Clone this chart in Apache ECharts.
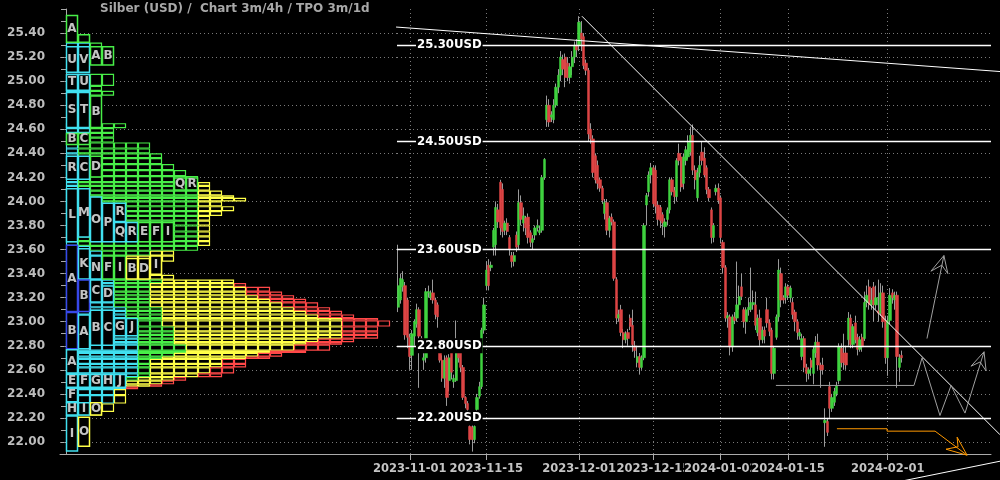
<!DOCTYPE html>
<html><head><meta charset="utf-8">
<script src="https://cdn.jsdelivr.net/npm/echarts/dist/echarts.min.js"></script>
<style>html,body{margin:0;padding:0;background:#000;}#c{width:1000px;height:480px;}</style>
</head><body><div id="c"></div>
<script>
const chartTitle = 'Silber (USD) /  Chart 3m/4h / TPO 3m/1d';
const dateLabels = ['2023-11-01','2023-11-15','2023-12-01','2023-12-15','2024-01-02','2024-01-15','2024-02-01'];
const dateSlots = [5, 38, 78, 110, 139, 168, 211];
const slotCount = 256;
const priceLevels = [25.30, 24.50, 23.60, 22.80, 22.20];
const gridPrices = [22.00,22.20,22.40,22.60,22.80,23.00,23.20,23.40,23.60,23.80,24.00,24.20,24.40,24.60,24.80,25.00,25.20,25.40];

// candles: [open, close, low, high]
const ohlc = [
[23.12,23.30,23.08,23.64],[23.18,23.36,23.15,23.40],[23.29,23.35,23.25,23.42],[23.30,22.89,22.85,23.33],
[23.18,22.87,22.78,23.20],[22.87,22.71,22.60,22.90],[22.72,22.90,22.60,22.93],[22.88,23.00,22.80,23.02],
[22.98,23.10,22.95,23.15],[23.10,22.88,22.45,23.12],[22.86,22.82,22.78,22.88],[22.68,22.70,22.60,22.76],
[22.70,23.25,22.66,23.28],[23.24,23.25,23.20,23.30],[23.20,23.24,23.18,23.26],[23.24,23.18,23.15,23.35],
[23.18,23.06,23.02,23.20],[23.14,23.04,22.95,23.16],[22.74,22.68,22.66,22.78],[22.68,22.53,22.50,22.72],
[22.53,22.68,22.45,22.72],[22.70,22.37,22.30,22.72],[22.51,22.70,22.42,22.73],[22.74,22.58,22.52,22.78],
[22.50,22.53,22.45,22.56],[22.51,22.74,22.50,23.01],[22.74,22.70,22.66,22.77],[22.74,22.62,22.58,22.76],
[22.62,22.37,22.35,22.64],[22.37,22.32,22.28,22.38],[22.32,22.27,22.22,22.34],[22.13,22.02,21.98,22.15],
[22.12,22.02,21.92,22.14],[22.02,22.13,21.99,22.15],[22.27,22.37,22.25,22.40],[22.38,22.46,22.36,22.50],
[22.46,22.93,22.44,22.95],[22.93,23.14,22.90,23.20],[23.30,23.43,23.26,23.50],[23.47,23.30,23.26,23.52],
[23.45,23.47,23.42,23.50],[23.62,23.76,23.55,23.78],
[23.64,23.95,23.55,24.00],[23.93,23.83,23.78,23.98],[24.16,23.78,23.72,24.18],[24.10,23.75,23.70,24.15],
[23.76,23.82,23.72,23.84],[23.82,23.75,23.72,23.86],[23.70,23.60,23.55,23.72],[23.55,23.50,23.45,23.58],
[23.50,23.55,23.46,23.58],[23.72,23.62,23.58,23.75],[23.64,23.99,23.60,24.10],[23.99,23.85,23.80,24.05],
[23.82,23.88,23.75,23.95],[23.86,23.78,23.72,23.88],[23.87,23.70,23.65,23.90],[23.74,23.66,23.62,23.76],
[23.66,23.69,23.60,23.72],[23.72,23.78,23.68,23.80],[23.78,23.80,23.75,23.85],[23.74,23.76,23.72,23.80],
[23.76,24.20,23.74,24.22],[24.20,24.35,24.18,24.36],[24.68,24.80,24.62,24.88],[24.80,24.66,24.62,24.85],
[24.70,24.72,24.66,24.75],[24.68,24.80,24.65,24.85],[24.80,24.95,24.78,24.98],[24.95,25.05,24.90,25.10],
[25.05,25.20,25.00,25.25],[25.18,25.10,25.05,25.22],[25.20,25.03,24.95,25.23],[25.15,25.03,25.00,25.20],
[25.03,25.12,24.98,25.15],[25.12,25.20,25.05,25.25],[25.20,25.30,25.15,25.33],[25.30,25.26,25.20,25.35],
[25.30,25.49,25.25,25.54],[25.40,25.35,25.25,25.50],[25.37,25.13,25.10,25.40],[25.15,25.09,25.05,25.18],
[25.09,24.56,24.50,25.11],[24.60,24.52,24.48,24.65],[24.52,24.24,24.20,24.55],[24.38,24.18,24.15,24.40],
[24.30,24.15,24.10,24.34],
[24.18,24.11,24.08,24.20],[24.11,24.01,23.98,24.13],[23.90,23.99,23.85,24.02],[23.99,23.76,23.72,24.02],
[23.76,23.86,23.70,23.88],[23.87,23.83,23.80,23.90],[23.83,23.36,23.34,23.85],[23.35,23.03,22.98,23.37],
[23.03,23.06,23.00,23.10],[23.10,22.91,22.88,23.14],[22.91,22.85,22.78,22.94],[22.85,22.90,22.82,22.92],
[22.91,22.86,22.80,22.94],[23.03,22.96,22.93,23.06],[22.97,22.81,22.75,23.10],[22.80,22.76,22.70,22.84],
[22.66,22.71,22.62,22.80],[22.71,22.62,22.56,22.74],[22.62,22.70,22.60,22.72],[22.70,23.80,22.68,23.82],
[23.97,24.05,23.80,24.07],[24.08,24.22,24.04,24.25],[24.22,24.28,24.15,24.32],[24.28,23.98,23.95,24.30],
[24.26,23.96,23.90,24.30],[23.97,23.85,23.80,24.00],[23.95,23.84,23.78,23.97],[23.89,23.82,23.72,23.91],
[23.79,23.83,23.70,23.86],[23.85,23.93,23.80,23.95],[23.93,24.18,23.90,24.20],[24.18,24.08,24.05,24.20],
[24.09,24.04,23.98,24.12],[24.04,24.34,24.00,24.36],[24.40,24.34,24.30,24.48],[24.37,24.12,24.08,24.40],
[24.15,24.37,24.10,24.40],[24.34,24.43,24.30,24.46],[24.37,24.49,24.35,24.55],[24.41,24.55,24.38,24.62],
[24.55,24.26,24.22,24.64],[24.26,24.18,24.10,24.30],[24.03,24.24,24.00,24.28],[24.24,24.30,24.20,24.38],
[24.41,24.34,24.30,24.50],[24.36,24.22,24.20,24.45],[24.28,24.10,24.06,24.30],[24.10,24.03,24.00,24.12],
[23.93,23.70,23.65,23.95],[23.70,23.80,23.66,23.82],[24.08,24.11,24.05,24.14],[24.11,24.01,23.98,24.15],
[24.03,23.70,23.65,24.05],[23.66,23.45,23.40,23.68],
[23.45,23.03,23.00,23.47],[23.03,23.05,22.95,23.08],[23.04,22.79,22.72,23.06],[22.79,23.04,22.75,23.06],
[23.04,23.01,22.98,23.08],[23.03,23.14,23.00,23.50],[23.14,23.21,23.10,23.30],[23.29,23.21,23.18,23.40],
[23.10,23.00,22.95,23.12],[23.00,23.10,22.90,23.12],[23.10,23.12,23.05,23.20],[23.10,23.16,23.08,23.45],
[23.14,23.16,23.10,23.26],[23.14,22.97,22.93,23.25],[22.91,23.03,22.88,23.06],[23.03,22.85,22.80,23.10],
[22.85,22.93,22.82,22.96],[22.93,22.88,22.82,22.96],[23.10,22.99,22.95,23.20],[22.99,22.92,22.88,23.02],
[22.93,22.57,22.52,22.95],[22.57,22.78,22.52,22.80],[22.87,23.04,22.85,23.06],[23.04,23.43,23.00,23.52],
[23.40,23.18,23.12,23.45],[23.20,23.18,23.15,23.22],[23.20,23.29,23.15,23.32],[23.29,23.22,23.18,23.31],
[23.20,23.28,23.16,23.30],[23.16,23.06,23.02,23.20],[23.08,23.00,22.92,23.10],[23.00,22.91,22.85,23.02],
[22.88,22.91,22.85,22.94],[22.71,22.86,22.68,22.90],[22.86,22.62,22.58,22.88],[22.62,22.57,22.50,22.65],
[22.57,22.60,22.52,22.62],[22.68,22.62,22.55,22.70],[22.57,22.77,22.48,22.80],[22.74,22.83,22.70,22.88],
[22.83,22.64,22.60,22.90],[22.64,22.60,22.45,22.66],[22.64,22.60,22.56,22.70],[22.16,22.18,21.96,22.28],
[22.17,22.08,22.05,22.20],[22.46,22.28,22.20,22.50],[22.28,22.37,22.25,22.40],[22.33,22.42,22.30,22.45],
[22.40,22.47,22.38,22.50],[22.51,22.79,22.48,22.82],[22.78,22.66,22.62,22.82],[22.74,22.66,22.60,22.90],
[22.74,22.64,22.60,22.80],[22.85,23.03,22.80,23.08],[23.03,22.81,22.78,23.06],[22.81,22.96,22.78,22.98],
[22.99,22.85,22.82,23.05],[22.87,22.77,22.72,22.90],[22.77,22.85,22.75,22.88],[22.87,22.79,22.75,22.90],
[22.86,23.16,22.84,23.25],[23.16,23.22,23.12,23.30],[23.29,23.14,23.10,23.35],[23.14,23.18,23.10,23.28],
[23.29,23.14,23.00,23.33],[23.14,23.20,23.10,23.30],[23.09,23.07,23.00,23.35],[23.07,23.24,23.05,23.32],
[23.24,23.00,22.95,23.30],[23.01,22.70,22.65,23.05],[22.70,23.01,22.55,23.05],[23.01,23.22,22.98,23.28],
[23.24,23.20,23.15,23.27],[23.18,23.22,23.10,23.25],[23.22,22.71,22.45,23.25],[22.62,22.70,22.50,22.73],
[22.72,22.70,22.66,22.76]
];

// TPO rows: [priceLow, priceHigh, cyan, green, yellow, red] cell counts
const tpoRows = [
[25.28,25.32,2,1,0,0],[24.96,25.06,2,2,0,0],[24.92,24.96,2,1,0,0],[24.88,24.92,2,2,0,0],
[24.61,24.65,2,3,0,0],[24.57,24.61,2,2,0,0],[24.53,24.57,2,2,0,0],[24.49,24.53,2,2,0,0],
[24.44,24.49,1,6,0,0],[24.40,24.44,1,6,0,0],[24.36,24.40,1,7,0,0],[24.31,24.36,1,7,0,0],
[24.26,24.31,1,8,0,0],[24.21,24.26,1,9,0,0],[24.16,24.21,1,10,0,0],[24.13,24.16,1,10,1,0],
[24.09,24.13,1,10,1,0],[24.05,24.09,1,10,2,0],[24.03,24.05,1,10,3,0],[24.00,24.03,1,10,4,0],
[23.96,24.00,1,10,2,0],[23.92,23.96,1,10,3,0],[23.88,23.92,1,10,2,0],[23.84,23.88,1,10,1,0],
[23.80,23.84,1,10,1,0],[23.75,23.80,1,10,1,0],[23.71,23.75,1,10,1,0],[23.67,23.71,1,10,1,0],
[23.63,23.67,1,10,1,0],[23.59,23.63,2,9,0,0],[23.55,23.59,3,4,2,0],[23.50,23.55,3,2,4,0],
[23.44,23.50,3,2,3,0],[23.39,23.44,3,2,3,0],[23.35,23.39,3,3,3,0],[23.32,23.35,4,4,6,0],
[23.29,23.32,4,3,7,1],[23.25,23.29,4,3,8,2],[23.22,23.25,4,3,8,3],[23.19,23.22,4,3,9,3],
[23.16,23.19,4,3,10,3],[23.12,23.16,4,3,11,3],[23.09,23.12,5,3,11,3],[23.06,23.09,5,3,12,3],
[23.03,23.06,5,3,13,3],[23.01,23.03,6,2,15,3],[22.96,23.01,6,2,15,4],[22.92,22.96,6,3,14,3],
[22.89,22.92,6,3,14,3],[22.86,22.89,6,3,14,3],[22.83,22.86,6,3,12,3],[22.81,22.83,6,3,11,3],
[22.76,22.81,6,4,9,3],[22.74,22.76,6,4,7,3],[22.71,22.74,6,3,7,2],[22.69,22.71,6,2,7,2],
[22.65,22.69,6,1,6,2],[22.62,22.65,6,1,6,2],[22.57,22.62,6,1,5,2],[22.54,22.57,6,1,4,2],
[22.51,22.54,5,1,3,1],[22.48,22.51,5,0,3,1],[22.46,22.48,5,0,2,1],[22.44,22.46,5,0,0,1],
[22.39,22.44,4,0,1,0],[22.32,22.39,4,0,1,0],[22.25,22.32,3,0,1,0],[22.22,22.25,2,0,1,0]
];

// TPO letter boxes: [column, priceLow, priceHigh, letter, colour]
const tpoLetters = [
[0,25.32,25.55,'A','g'],[1,25.32,25.39,'','g'],
[0,25.07,25.29,'U','c'],[1,25.07,25.29,'V','c'],[2,25.13,25.29,'A','g'],[3,25.13,25.29,'B','g'],
[0,24.92,25.06,'T','c'],[1,24.92,25.06,'U','c'],
[0,24.61,24.91,'S','c'],[1,24.61,24.91,'T','c'],[2,24.61,24.88,'B','g'],
[0,24.47,24.57,'B','g'],[1,24.47,24.57,'C','g'],
[0,24.18,24.38,'R','c'],[1,24.18,24.38,'C','c'],[2,24.20,24.38,'D','g'],
[9,24.09,24.20,'Q','g'],[10,24.09,24.20,'R','g'],
[0,23.66,24.11,'L','c'],[1,23.70,24.11,'M','c'],[2,23.66,24.04,'O','c'],[3,23.66,23.99,'P','c'],
[4,23.83,23.99,'R','c'],[4,23.66,23.83,'Q','c'],[5,23.66,23.83,'R','c'],[6,23.66,23.83,'E','g'],
[7,23.66,23.83,'F','g'],[8,23.66,23.83,'I','g'],
[0,23.08,23.64,'A','b'],[1,23.35,23.61,'K','c'],[2,23.35,23.55,'N','c'],[3,23.35,23.55,'F','g'],
[4,23.35,23.55,'I','g'],[5,23.35,23.53,'B','y'],[6,23.35,23.53,'D','y'],[7,23.39,23.55,'I','y'],
[1,23.08,23.35,'B','b'],[2,23.16,23.35,'C','c'],[3,23.16,23.30,'D','c'],
[0,22.77,23.08,'B','b'],[1,22.77,23.06,'A','c'],[2,22.80,23.10,'B','c'],[3,22.80,23.10,'C','c'],
[4,22.88,23.03,'G','c'],[5,22.88,23.03,'J','c'],
[0,22.57,22.77,'A','c'],
[0,22.45,22.565,'E','c'],[1,22.45,22.565,'F','c'],[2,22.45,22.565,'G','c'],[3,22.45,22.565,'H','c'],[4,22.45,22.565,'J','c'],
[0,22.33,22.45,'F','c'],
[0,22.22,22.33,'H','c'],[1,22.22,22.33,'I','c'],[2,22.22,22.33,'O','y'],
[0,21.92,22.22,'I','c'],[1,21.96,22.21,'O','y']
];

// drawings, in [slot, price]
const whiteTrends = [
  [[79.2,25.54],[259.4,22.06]],
  [[-0.9,25.45],[259.4,25.08]],
  [[218.4,21.68],[259.4,21.84]]
];
const grayDrawings = [
  [[162.8,22.47],[222.3,22.47],[225.8,22.70],[233.5,22.22],[238.3,22.47],[244.3,22.24],[252.5,22.75]],
  [[246.9,22.63],[252.5,22.75],[253.4,22.59],[250.8,22.665],[246.9,22.63]],
  [[227.9,22.86],[235.2,23.55]],
  [[229.6,23.42],[235.2,23.55],[236.9,23.40],[234.3,23.47],[229.6,23.42]]
];
const orangeDrawings = [
  [[189.1,22.11],[210.7,22.11],[210.7,22.09],[231.4,22.09],[245.2,21.89]],
  [[236.1,21.94],[245.2,21.89],[240.9,22.04],[241.3,21.96],[236.1,21.94]]
];

const tpoColors = {c:'#40e0f0', b:'#3848e8', g:'#48ee48', y:'#ffff48', r:'#ff4848'};
const FONT = 'DejaVu Sans';

const cells = [];
tpoRows.forEach(r => {
  let col = 0;
  [['c',r[2]],['g',r[3]],['y',r[4]],['r',r[5]]].forEach(([k,n]) => {
    for (let i = 0; i < n; i++) { cells.push([col, r[0], r[1], k]); col++; }
  });
});

const slots = Array.from({length: slotCount}, (_, i) => String(i));
const isDateSlot = (idx) => dateSlots.indexOf(idx) >= 0;
const bodies = ohlc.map(d => [d[0], d[1], Math.min(d[0], d[1]), Math.max(d[0], d[1])]);

const chart = echarts.init(document.getElementById('c'), null, {renderer: 'canvas'});
const yCommon = {type: 'value', min: 21.9, max: 25.6, interval: 0.1};
const gridPos = {top: 9, height: 445};

chart.setOption({
  backgroundColor: '#000',
  animation: false,
  title: {text: chartTitle, left: 100, top: 3, padding: 0,
    textStyle: {color: '#a8a8a8', fontSize: 12, fontWeight: 'bold', fontFamily: FONT}},
  grid: [
    Object.assign({left: 60, width: 337}, gridPos),
    Object.assign({left: 397, width: 594}, gridPos),
    Object.assign({left: 397, width: 594}, gridPos)
  ],
  xAxis: [
    {type: 'value', gridIndex: 0, min: -0.5, max: 27.5833,
      axisLine: {show: true, lineStyle: {color: '#aaaaaa'}}, axisTick: {show: false},
      axisLabel: {show: false}, splitLine: {show: false}},
    {type: 'category', gridIndex: 1, data: slots, boundaryGap: true,
      axisLine: {show: true, lineStyle: {color: '#aaaaaa'}},
      axisTick: {show: true, alignWithLabel: true, interval: isDateSlot, length: 6, lineStyle: {color: '#aaaaaa'}},
      axisLabel: {show: true, interval: isDateSlot, hideOverlap: false, showMinLabel: true, showMaxLabel: true,
        formatter: (v) => dateLabels[dateSlots.indexOf(+v)] || '',
        color: '#c4c4c4', fontSize: 11.5, fontWeight: 'bold', fontFamily: FONT,
        backgroundColor: '#000', margin: 9, padding: [0, 0]},
      splitLine: {show: true, alignWithLabel: true, interval: isDateSlot,
        lineStyle: {color: '#7a7a7a', type: [1, 3], width: 1}}},
    {type: 'value', gridIndex: 2, min: -0.5, max: slotCount - 0.5, show: false}
  ],
  yAxis: [
    Object.assign({gridIndex: 0,
      axisLine: {show: true, lineStyle: {color: '#aaaaaa'}},
      axisTick: {show: true, length: 5, lineStyle: {color: '#aaaaaa'}},
      axisLabel: {show: true, margin: 15, color: '#bdbdbd', fontSize: 12, fontWeight: 'bold', fontFamily: FONT,
        formatter: (v) => { const t = Math.round(v * 10); return (t % 2 === 0 && t <= 254) ? v.toFixed(2) : ''; }},
      splitLine: {show: false}}, yCommon),
    Object.assign({gridIndex: 1, show: false, splitLine: {show: false}}, yCommon),
    Object.assign({gridIndex: 2, show: false, splitLine: {show: false}}, yCommon)
  ],
  series: [
    {type: 'line', xAxisIndex: 0, yAxisIndex: 0, data: [], silent: true,
      markLine: {z: 1, silent: true, symbol: ['none', 'none'], label: {show: false},
        lineStyle: {color: '#7a7a7a', type: [1, 3], width: 1},
        data: gridPrices.map(v => ({yAxis: v}))}},
    {type: 'line', xAxisIndex: 1, yAxisIndex: 1, data: [], silent: true,
      markLine: {z: 1, silent: true, symbol: ['none', 'none'], label: {show: false},
        lineStyle: {color: '#7a7a7a', type: [1, 3], width: 1},
        data: gridPrices.map(v => ({yAxis: v}))}},
    {type: 'custom', xAxisIndex: 0, yAxisIndex: 0, z: 2, silent: true,
      data: cells.map(c => [c[0], c[1], c[2]]),
      renderItem: (params, api) => {
        const c = cells[params.dataIndex];
        const p1 = api.coord([c[0], c[2]]);
        const p2 = api.coord([c[0] + 1, c[1]]);
        return {type: 'rect', shape: {x: p1[0] + 0.5, y: p1[1] + 0.5, width: p2[0] - p1[0] - 1, height: Math.max(1, p2[1] - p1[1] - 1)},
          style: {fill: '#000', stroke: tpoColors[c[3]], lineWidth: 1.2}};
      }},
    {type: 'custom', xAxisIndex: 0, yAxisIndex: 0, z: 3, silent: true,
      data: tpoLetters.map(c => [c[0], c[1], c[2]]),
      renderItem: (params, api) => {
        const b = tpoLetters[params.dataIndex];
        const p1 = api.coord([b[0], b[2]]);
        const p2 = api.coord([b[0] + 1, b[1]]);
        return {type: 'group', children: [
          {type: 'rect', shape: {x: p1[0] + 0.5, y: p1[1] + 0.5, width: p2[0] - p1[0] - 1, height: p2[1] - p1[1] - 1},
            style: {fill: '#000', stroke: tpoColors[b[4]], lineWidth: 1.5}},
          {type: 'text', style: {text: b[3], x: (p1[0] + p2[0]) / 2, y: (p1[1] + p2[1]) / 2,
            fill: '#c4c4c4', font: 'bold 12px "DejaVu Sans"', align: 'center', verticalAlign: 'middle'}}
        ]};
      }},
    {type: 'candlestick', xAxisIndex: 1, yAxisIndex: 1, z: 3, silent: true, barWidth: 1,
      data: ohlc,
      itemStyle: {color: '#9a9a9a', color0: '#9a9a9a', borderColor: '#9a9a9a', borderColor0: '#9a9a9a', borderWidth: 1}},
    {type: 'candlestick', xAxisIndex: 1, yAxisIndex: 1, z: 4, silent: true, barWidth: 2.8,
      data: bodies,
      itemStyle: {color: '#3fd23f', color0: '#dd4444', borderColor: '#3fd23f', borderColor0: '#dd4444', borderWidth: 0.5}},
    {type: 'line', xAxisIndex: 1, yAxisIndex: 1, data: [], silent: true,
      markLine: {z: 6, silent: true, symbol: ['none', 'none'],
        lineStyle: {color: '#ffffff', type: 'solid', width: 1.4},
        label: {show: true, position: 'insideStartTop', distance: [19, 0], verticalAlign: 'middle',
          formatter: (p) => p.value.toFixed(2) + 'USD',
          color: '#ffffff', fontSize: 13, fontWeight: 'bold', fontFamily: 'DejaVu Sans Condensed, DejaVu Sans',
          backgroundColor: '#000', padding: [1, 1]},
        data: priceLevels.map(v => ({yAxis: v}))}},
    {type: 'lines', coordinateSystem: 'cartesian2d', xAxisIndex: 2, yAxisIndex: 2, polyline: true, clip: false,
      silent: true, z: 7, lineStyle: {color: '#ffffff', width: 1, opacity: 1},
      data: whiteTrends.map(c => ({coords: c}))},
    {type: 'lines', coordinateSystem: 'cartesian2d', xAxisIndex: 2, yAxisIndex: 2, polyline: true, clip: false,
      silent: true, z: 7, lineStyle: {color: '#a0a0a0', width: 1, opacity: 1},
      data: grayDrawings.map(c => ({coords: c}))},
    {type: 'lines', coordinateSystem: 'cartesian2d', xAxisIndex: 2, yAxisIndex: 2, polyline: true, clip: false,
      silent: true, z: 7, lineStyle: {color: '#ff9900', width: 1, opacity: 1},
      data: orangeDrawings.map(c => ({coords: c}))}
  ]
});
</script></body></html>
